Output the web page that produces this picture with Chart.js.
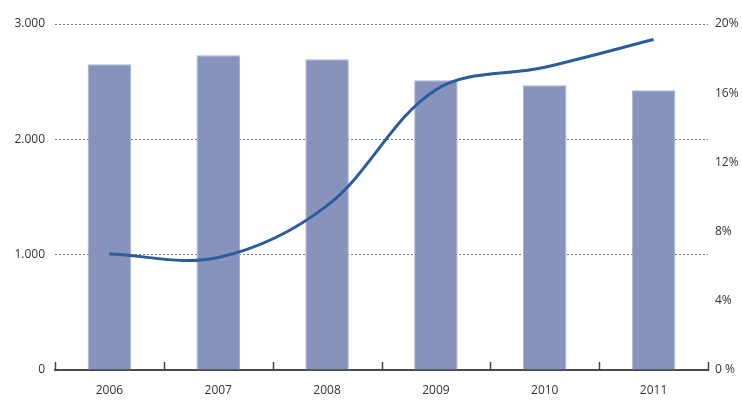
<!DOCTYPE html>
<html lang="en">
<head>
<meta charset="UTF-8">
<title>Chart</title>
<script src="https://cdn.jsdelivr.net/npm/chart.js@4.4.1/dist/chart.umd.min.js"></script>
<style>
  html, body { margin: 0; padding: 0; background: #fff; }
  #wrap { width: 742px; height: 403px; }
</style>
</head>
<body>
<div id="wrap"><canvas id="myChart"></canvas></div>
<script>
  const years = ["2006", "2007", "2008", "2009", "2010", "2011"];
  const barValues = [2652, 2730, 2695, 2513, 2470, 2426];
  const lineValues = [6.7, 6.5, 9.5, 16.2, 17.5, 19.1];

  // small upward tick marks between categories on the x axis
  const upTicks = {
    id: "upTicks",
    afterDraw(chart) {
      const x = chart.scales.x, ctx = chart.ctx;
      const half = (x.getPixelForValue(1) - x.getPixelForValue(0)) / 2;
      const yb = chart.chartArea.bottom;
      ctx.save();
      ctx.strokeStyle = "#444";
      ctx.lineWidth = 1.5;
      for (let i = 0; i <= years.length; i++) {
        const px = Math.round(x.getPixelForValue(i) - half) + 0.5;
        ctx.beginPath();
        ctx.moveTo(px, yb + 1);
        ctx.lineTo(px, yb - 8);
        ctx.stroke();
      }
      ctx.restore();
    }
  };

  new Chart("myChart", {
    data: {
      labels: years,
      datasets: [{
        type: "line",
        data: lineValues,
        yAxisID: "y2",
        borderColor: "#2b5c9c",
        borderWidth: 3,
        pointRadius: 0,
        tension: 0.35,
        order: 0
      }, {
        type: "bar",
        data: barValues,
        yAxisID: "y",
        backgroundColor: "#8793bd",
        borderColor: "#a9b3d3",
        borderWidth: 1,
        barPercentage: 0.4,
        categoryPercentage: 1,
        order: 1
      }]
    },
    plugins: [upTicks],
    options: {
      responsive: true,
      maintainAspectRatio: false,
      animation: false,
      layout: { padding: { top: 24, right: 0, left: 0, bottom: 0 } },
      plugins: { legend: { display: false }, tooltip: { enabled: false } },
      scales: {
        x: {
          grid: { display: false, drawTicks: false },
          border: { display: true, color: "#4a4a4a", width: 2 },
          ticks: { color: "#333", padding: 13, font: { family: "Open Sans", size: 12 } },
          afterFit(s) { s.height = 33; }
        },
        y: {
          position: "left",
          min: 0, max: 3000,
          ticks: {
            stepSize: 1000, color: "#333", padding: 10,
            font: { family: "Open Sans", size: 12 },
            callback: v => v === 0 ? "0" : (v / 1000) + ".000"
          },
          grid: {
            color: ctx => ctx.tick.value === 0 ? "rgba(0,0,0,0)" : "#7a7a7a",
            lineWidth: 1, drawTicks: false
          },
          border: { display: false, dash: [2, 2] },
          afterFit(s) { s.width = 55; }
        },
        y2: {
          position: "right",
          min: 0, max: 20,
          ticks: {
            stepSize: 4, color: "#333", padding: 7,
            font: { family: "Open Sans", size: 12 },
            callback: v => v === 0 ? "0 %" : v + "%"
          },
          grid: { drawOnChartArea: false, drawTicks: false },
          border: { display: false },
          afterFit(s) { s.width = 34; }
        }
      }
    }
  });
</script>
</body>
</html>
